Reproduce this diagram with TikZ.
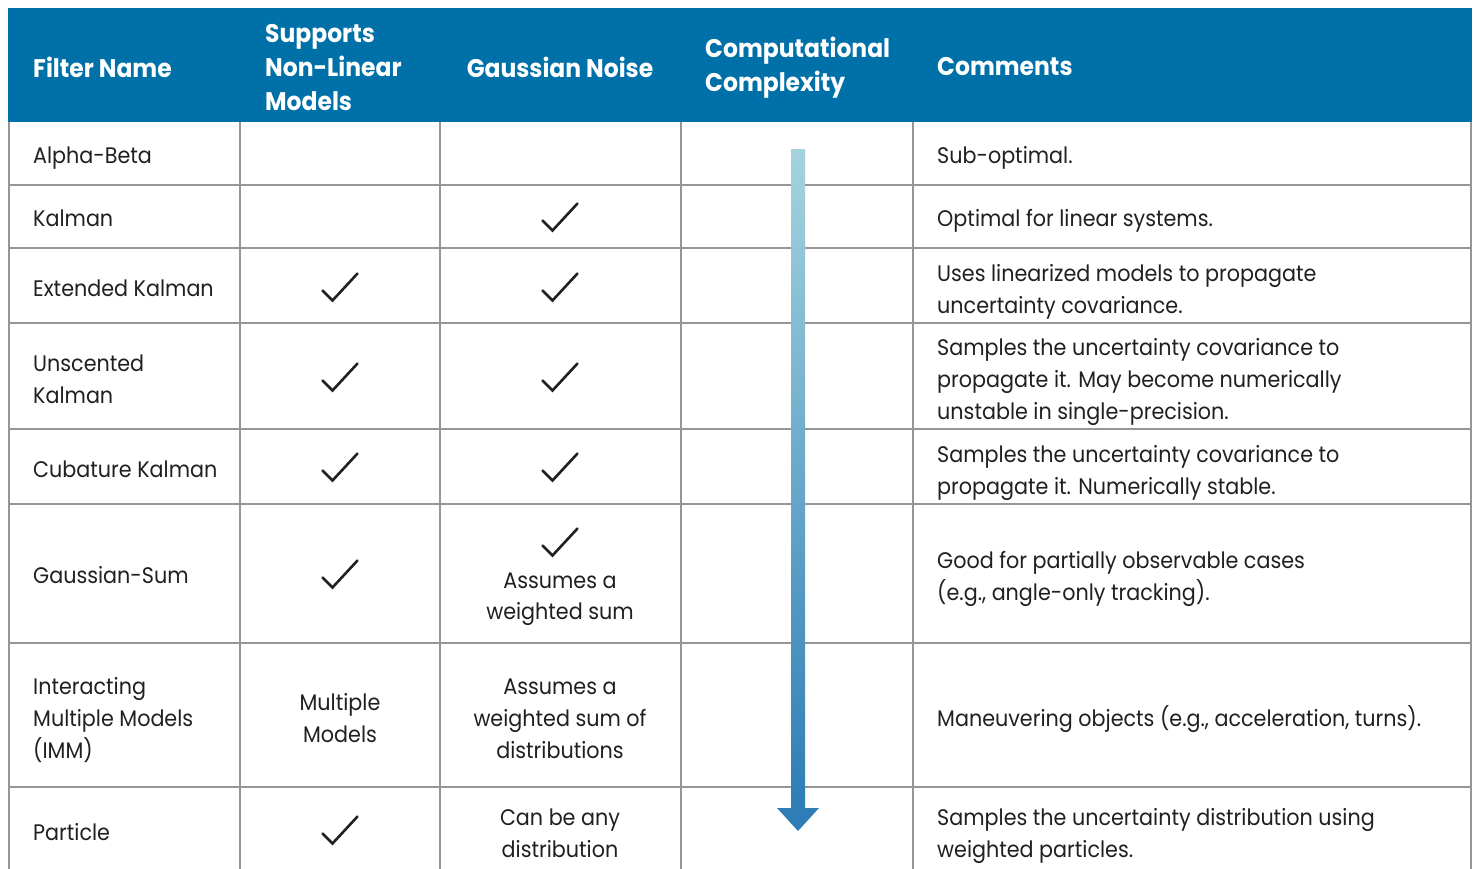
\documentclass[tikz,border=0pt]{standalone}
\usepackage{fontspec}
\setmainfont{Poppins}[FakeStretch=0.92]
\definecolor{hdrblue}{RGB}{0,112,168}
\definecolor{gridgray}{RGB}{150,150,150}
\definecolor{textdark}{RGB}{35,31,32}
\definecolor{arrowtop}{RGB}{164,211,222}
\definecolor{arrowbot}{RGB}{46,125,182}
\begin{document}
\begin{tikzpicture}[x=1pt,y=-1pt,
  gridline/.style={draw=gridgray, line width=2pt},
  hdr/.style={text=white, font=\fontsize{25.5}{34}\selectfont\bfseries, align=left, inner sep=0pt, anchor=west},
  body/.style={text=textdark, font=\fontsize{22.5}{32}\selectfont, align=left, inner sep=0pt, anchor=west,
    execute at begin node=\strut, execute at end node=\strut},
  cbody/.style={body, align=center, anchor=center},
  tick/.style={draw=textdark, line width=2.6pt, line cap=round, line join=miter},
  tickmark/.pic={\draw[tick] (-17.5,3.5) -- (-7.5,13.5) -- (17.5,-13.5);}
]
\useasboundingbox (0,0) rectangle (1476,869);
\fill[white] (0,0) rectangle (1476,869);
% header band
\fill[hdrblue] (8,8) rectangle (1472,122);
% grid
\foreach \yy in {185,248,323,429,504,643,787} {\draw[gridline] (8,\yy) -- (1472,\yy);}
\foreach \xx in {9,240,440,681,913,1471} {\draw[gridline] (\xx,122) -- (\xx,870);}
% header texts
\node[hdr] (hname) at (33,67) {Filter Name};
\node[hdr] (hnonlin) at (265,68) {Supports\\Non-Linear\\Models};
\node[hdr, anchor=center, align=center] (hgauss) at (560,67) {Gaussian Noise};
\node[hdr] (hcomp) at (705,68) {Computational\\Complexity};
\node[hdr] (hcomm) at (937,67) {Comments};
% column 1
\node[body] (n1) at (33,157) {Alpha-Beta};
\node[body] (n2) at (33,220) {Kalman};
\node[body] (n3) at (33,290) {Extended Kalman};
\node[body] (n4) at (33,384) {Unscented\\Kalman};
\node[body] (n5) at (33,471) {Cubature Kalman};
\node[body] (n6) at (33,577) {Gaussian-Sum};
\node[body] (n7) at (33,723) {Interacting\\Multiple Models\\(IMM)};
\node[body] (n8) at (33,834) {Particle};
% column 2
\pic at (340,287) {tickmark};
\pic at (340,377) {tickmark};
\pic at (340,467) {tickmark};
\pic at (340,574) {tickmark};
\node[cbody] (m7) at (340,723) {Multiple\\Models};
\pic at (340,830) {tickmark};
% column 3
\pic at (560,217) {tickmark};
\pic at (560,287) {tickmark};
\pic at (560,377) {tickmark};
\pic at (560,467) {tickmark};
\pic at (560,542) {tickmark};
\node[cbody] (g6) at (560,601) {Assumes a\\weighted sum};
\node[cbody] (g7) at (560,723) {Assumes a\\weighted sum of\\distributions};
\node[cbody] (g8) at (560,838) {Can be any\\distribution};
% comments
\node[body] (c1) at (937,157) {Sub-optimal.};
\node[body] (c2) at (937,220) {Optimal for linear systems.};
\node[body] (c3) at (937,294) {Uses linearized models to propagate\\uncertainty covariance.};
\node[body] (c4) at (937,384) {Samples the uncertainty covariance to\\propagate it. May become numerically\\unstable in single-precision.};
\node[body] (c5) at (937,475) {Samples the uncertainty covariance to\\propagate it. Numerically stable.};
\node[body] (c6) at (937,581) {Good for partially observable cases\\(e.g., angle-only tracking).};
\node[body] (c7) at (937,720) {Maneuvering objects (e.g., acceleration, turns).};
\node[body] (c8) at (937,838) {Samples the uncertainty distribution using\\weighted particles.};
% complexity arrow
\coordinate (atop) at (798,150);
\coordinate (abase) at (798,808);
\coordinate (atip) at (798,831);
\shade[top color=arrowtop, bottom color=arrowbot] ([xshift=-7pt]atop) rectangle ([xshift=7pt]abase);
\fill[arrowbot] ([xshift=-21pt]abase) -- ([xshift=21pt]abase) -- (atip) -- cycle;
\end{tikzpicture}
\end{document}
